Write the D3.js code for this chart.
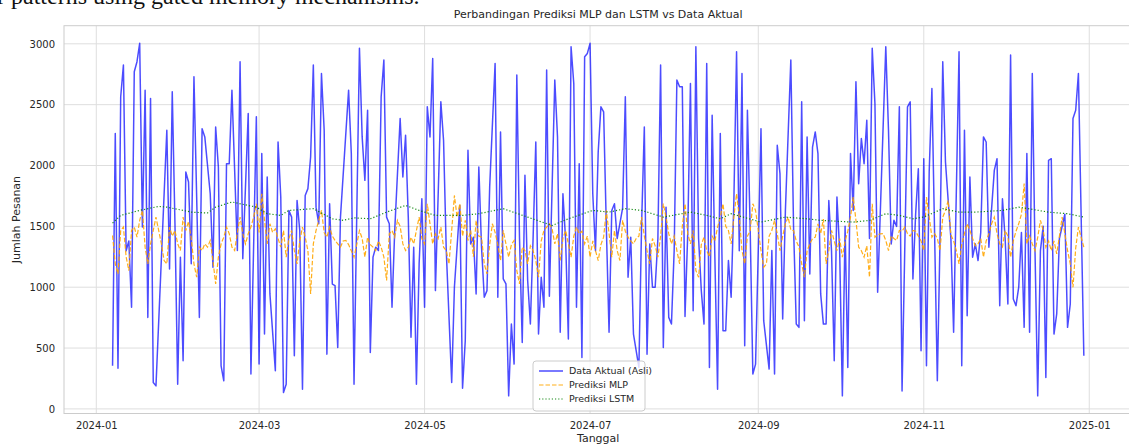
<!DOCTYPE html>
<html>
<head>
<meta charset="UTF-8">
<title>Perbandingan Prediksi MLP dan LSTM vs Data Aktual</title>
<script src="https://cdn.jsdelivr.net/npm/d3@7"></script>
<style>
body, html {
	margin: 0;
	padding: 0;
	background: #ffffff;
	overflow: hidden;
}
svg {
	display: block;
	font-family: 'DejaVu Sans', sans-serif;
}
</style>
</head>
<body>
<svg id="chart"></svg>
<script>
// hari ke-n sejak 2024-01-01
var awalTahun = new Date(2024, 0, 1);

// Data aktual: [hari, jumlah pesanan] (titik balik garis)
var aktual = [
	[6,354],[7,2262],[8,335],[9,2565],[10,2825],[11,1300],[12,1380],[13,835],[14,2770],[15,2853],[16,3004],[17,1494],[18,2619],[19,752],[20,2551],[21,217],[22,189],[26,2290],[27,1150],[28,2606],[29,1521],[30,203],[31,1247],[32,395],[33,1947],[34,1864],[35,1192],
	[36,2730],[38,752],[39,2303],[40,2235],[42,1768],[43,1164],[44,2317],[45,1988],[46,354],[47,231],[48,2015],[49,2015],[50,2619],[52,1301],[53,2853],[54,1233],[56,2427],[57,286],[59,2400],[60,368],[61,2098],[62,615],[63,1906],[64,945],[66,313],[67,2193],[68,1741],
	[69,135],[70,203],[71,1631],[72,1576],[73,437],[74,1713],[75,1466],[76,162],[77,1754],[78,1810],[79,2070],[80,2825],[81,1658],[82,1521],[83,2756],[84,2290],[85,450],[86,1686],[87,1026],[88,1013],[89,505],[90,1576],[93,2619],[94,2098],[95,203],[97,2963],[98,2235],[99,1878],[100,2454],[101,464],
	[102,1247],[103,1329],[104,1301],[105,2565],[106,2867],[107,1576],[108,1521],[109,835],[110,1466],[112,2386],[113,1906],[114,2248],[115,1576],[116,588],[117,1329],[118,203],[119,1192],[120,1727],[121,835],[122,2482],[123,2235],[124,2880],[125,972],[127,2523],[128,2207],[129,1300],[131,217],[132,999],[134,1672],[135,170],
	[136,560],[137,2125],[138,1356],[139,1411],[140,945],[141,1988],[142,1329],[143,917],[144,972],[145,1823],[147,2839],[148,917],[149,2276],[150,1068],[151,1027],[152,107],[153,697],[154,368],[155,2743],[156,1400],[157,546],[158,1919],[159,1055],[160,697],[161,1400],[162,2193],[163,615],[164,1082],[165,835],[166,2784],[167,925],
	[169,2702],[170,2235],[171,629],[172,1768],[173,1384],[174,574],[175,2976],[176,2674],[177,835],[178,2015],[179,423],[180,2894],[181,2921],[182,3004],[183,1768],[184,1300],[185,2111],[186,2482],[187,2441],[188,1494],[189,629],[190,1631],[191,1686],[192,1400],[194,1650],[195,2565],[196,1082],[197,1411],[198,615],[200,341],
	[201,1521],[202,2317],[203,450],[204,1356],[205,999],[206,999],[207,1400],[208,2825],[209,505],[210,1658],[211,752],[212,697],[213,1300],[214,2702],[215,2647],[216,2647],[217,760],[218,1439],[219,2674],[220,807],[221,2976],[222,1400],[223,972],[224,697],[225,2839],[226,341],[227,2413],[228,1250],[229,162],[230,2262],[231,642],[232,642],[233,1219],[234,917],
	[235,1700],[236,2935],[237,1300],[238,2756],[239,519],[240,2454],[241,1500],[242,286],[243,368],[244,1300],[245,2303],[246,725],[248,327],[249,1301],[250,286],[251,2166],[252,1933],[253,739],[254,1631],[256,2867],[257,1500],[258,697],[259,670],[260,2523],[261,725],[262,2235],[263,1109],[264,2152],[265,2276],[266,2098],[267,945],
	[268,697],[269,697],[270,1713],[271,1300],[272,395],[273,1741],[274,1300],[275,107],[276,1500],[277,341],[278,2098],[279,1631],[280,2688],[281,1851],[282,2221],[283,2015],[284,2372],[285,1400],[286,2963],[287,2509],[288,958],[291,2976],[292,2290],[293,1356],[294,1550],[295,1500],[296,2482],[297,148],[299,2482],[300,2523],
	[301,1068],[302,1600],[303,1974],[304,478],[305,2056],[306,354],[307,1947],[308,2633],[310,231],[311,1400],[312,2853],[313,2029],[314,1713],[315,1400],[316,629],[318,2935],[319,354],[320,2290],[321,766],[322,1906],[323,1247],[324,1356],[325,1219],[326,1450],[327,2235],[328,2193],[329,1329],[331,1960],[332,2056],[333,848],
	[334,1727],[335,1400],[336,862],[337,2908],[338,903],[339,848],[340,1000],[341,1450],[342,670],[343,2098],[344,629],[345,2756],[346,1300],[347,107],[348,1300],[349,1500],[350,258],[351,2043],[352,2056],[353,615],[354,780],[355,1400],[357,1600],[358,670],[359,862],[360,2386],[361,2454],[362,2756],[364,437]
];

// Prediksi MLP, harian mulai hari ke-6 (2024-01-07)
var hariAwalMLP = 6;
var nilaiMLP = [
	1425,1192,1109,1466,1494,1250,1137,1466,1494,1411,1549,1631,1329,1192,1356,1466,1576,1466,1356,1219,1192,1494,1420,1466,1356,1301,1576,1466,1540,1400,
	1192,1082,1329,1301,1356,1329,1384,1219,1027,1247,1356,1411,1494,1440,1329,1301,1450,1576,1440,1356,1439,1494,1576,1686,1450,1768,1550,1356,1521,1450,1480,1400,1329,
	1466,1247,1400,1466,1301,1192,1380,1494,1411,1301,945,1356,1466,1550,1631,1450,1411,1494,1420,1384,1356,1329,1380,1384,1350,1300,1247,1350,1466,1400,1247,1411,1350,
	1329,1301,1380,1329,1247,1055,1439,1466,1411,1549,1500,1356,1301,1329,1411,1356,1466,1576,1400,1356,1686,1520,1356,1439,1400,1494,1329,1300,1192,1466,1754,1576,1686,1420,
	1549,1384,1466,1250,1549,1420,1411,1192,1109,1350,1521,1450,1350,1219,1466,1356,1247,1350,1384,1137,1027,1329,1300,1192,1340,1301,1219,1082,1380,1466,1494,1521,
	1480,1356,1440,1219,1400,1466,1356,1247,1420,1494,1439,1460,1356,1420,1247,1380,1301,1219,1350,1411,1631,1440,1247,1466,1300,1219,1549,1460,1411,1380,1356,1400,1420,
	1576,1420,1301,1192,1400,1340,1247,1420,1686,1576,1440,1356,1420,1301,1192,1500,1686,1440,1356,1466,1137,1082,1350,1411,1300,1250,1420,1380,1494,1576,1686,1500,1466,1356,
	1576,1768,1580,1301,1192,1420,1460,1686,1631,1466,1301,1164,1192,1420,1466,1549,1440,1301,1420,1521,1576,1470,1466,1380,1330,1192,1082,1300,1356,1400,1411,1521,1440,
	1560,1192,1300,1466,1380,1301,1400,1247,1380,1460,1576,1741,1550,1329,1300,1247,1340,1082,1686,1411,1430,1439,1440,1384,1301,1420,1400,1384,1466,1460,1494,1440,1420,
	1466,1460,1420,1380,1301,1741,1580,1411,1440,1400,1301,1576,1631,1713,1430,1380,1301,1192,1350,1440,1521,1466,1400,1340,1356,1400,1247,1380,1440,1521,1576,1440,1356,
	1330,1466,1420,1247,1380,1460,1521,1600,1851,1356,1420,1356,1300,1410,1549,1470,1329,1380,1301,1380,1274,1420,1576,1440,1301,1192,999,1320,1494,1411,1329
];

// Prediksi LSTM: [hari, nilai]
var lstm = [
	[6,1527],[9,1590],[16,1631],[23,1664],[26,1658],[32,1631],[35,1617],[41,1610],[44,1658],[50,1700],[59,1658],[63,1604],[68,1590],[71,1631],[80,1645],[87,1562],[91,1549],[95,1570],[101,1562],[107,1617],[114,1672],[119,1631],[125,1590],[135,1590],[141,1604],[150,1645],[159,1576],[168,1507],[174,1562],[183,1631],[189,1617],[195,1645],[201,1631],[209,1576],[219,1617],[225,1590],[230,1562],[234,1604],[245,1535],[254,1576],[262,1562],[267,1549],[279,1535],[285,1549],[291,1604],[296,1590],[301,1562],[305,1576],[312,1645],[318,1617],[324,1617],[334,1631],[340,1658],[351,1617],[358,1604],[364,1576]
];

var yTicks = [0, 500, 1000, 1500, 2000, 2500, 3000];
var namaSeri = ["Data Aktual (Asli)", "Prediksi MLP", "Prediksi LSTM"];

var width = 1129;
var height = 447;

var plotLeft = 64;
var plotRight = 1132.4;
var plotTop = 25.7;
var plotBottom = 413.5;

function hariKe(h) {
	return d3.timeDay.offset(awalTahun, h);
}

var dataAktual = aktual.map(function(d) {return {t: hariKe(d[0]), v: d[1]}});
var dataMLP = nilaiMLP.map(function(v, i) {return {t: hariKe(hariAwalMLP + i), v: v}});
var dataLSTM = lstm.map(function(d) {return {t: hariKe(d[0]), v: d[1]}});

var semua = dataAktual.concat(dataMLP, dataLSTM);

// margin 5% seperti matplotlib
var tExt = d3.extent(semua, function(d) {return d.t});
var tPad = (tExt[1] - tExt[0])*0.05;
var vExt = d3.extent(semua, function(d) {return d.v});
var vPad = (vExt[1] - vExt[0])*0.05;

var x = d3.scaleTime().domain([new Date(+tExt[0] - tPad), new Date(+tExt[1] + tPad)]).range([plotLeft, plotRight]);
var y = d3.scaleLinear().domain([vExt[0] - vPad, vExt[1] + vPad]).range([plotBottom, plotTop]);

var svg = d3.select("#chart").attr("width", width).attr("height", height);
svg.append("rect").attr("width", width).attr("height", height).attr("fill", "#ffffff");

// potongan teks dokumen di atas gambar
svg.append("text").attr("x", -3).attr("y", 4).attr("font-family", "'Liberation Serif', serif").attr("font-size", 24).attr("fill", "#111111").text("r patterns using gated memory mechanisms.");

svg.append("defs").append("clipPath").attr("id", "plotclip").append("rect").attr("x", plotLeft).attr("y", plotTop).attr("width", plotRight - plotLeft).attr("height", plotBottom - plotTop);

// grid
var xTickDates = d3.timeMonth.every(2).range(new Date(2024, 0, 1), new Date(2025, 0, 2));

svg.append("g").attr("class", "grid").selectAll("line").data(xTickDates).enter().append("line")
	.attr("x1", function(d) {return x(d)}).attr("x2", function(d) {return x(d)})
	.attr("y1", plotTop).attr("y2", plotBottom)
	.attr("stroke", "#dedede").attr("stroke-width", 1);

svg.append("g").attr("class", "grid").selectAll("line").data(yTicks).enter().append("line")
	.attr("x1", plotLeft).attr("x2", plotRight)
	.attr("y1", function(d) {return y(d)}).attr("y2", function(d) {return y(d)})
	.attr("stroke", "#dedede").attr("stroke-width", 1);

// axes
var xAxis = d3.axisBottom(x).tickValues(xTickDates).tickFormat(d3.timeFormat("%Y-%m")).tickSize(0).tickPadding(8);
var yAxis = d3.axisLeft(y).tickValues(yTicks).tickFormat(d3.format("d")).tickSize(0).tickPadding(9);

var gx = svg.append("g").attr("transform", "translate(0," + plotBottom + ")").call(xAxis);
var gy = svg.append("g").attr("transform", "translate(" + plotLeft + ",0)").call(yAxis);
[gx, gy].forEach(function(g) {
	g.select(".domain").remove();
	g.selectAll("text").attr("font-family", "'DejaVu Sans', sans-serif").attr("font-size", 10).attr("fill", "#262626");
});

// lines
var line = d3.line().x(function(d) {return x(d.t)}).y(function(d) {return y(d.v)});

var plot = svg.append("g").attr("clip-path", "url(#plotclip)");

plot.append("path").datum(dataAktual).attr("d", line)
	.attr("fill", "none").attr("stroke", "blue").attr("stroke-opacity", 0.7).attr("stroke-width", 1.5).attr("stroke-linejoin", "round");

plot.append("path").datum(dataMLP).attr("d", line)
	.attr("fill", "none").attr("stroke", "orange").attr("stroke-opacity", 0.9).attr("stroke-width", 1.2).attr("stroke-dasharray", "4.5,2");

plot.append("path").datum(dataLSTM).attr("d", line)
	.attr("fill", "none").attr("stroke", "green").attr("stroke-opacity", 0.9).attr("stroke-width", 1.2).attr("stroke-dasharray", "1.2,2");

// frame
svg.append("rect").attr("x", plotLeft).attr("y", plotTop).attr("width", plotRight - plotLeft).attr("height", plotBottom - plotTop)
	.attr("fill", "none").attr("stroke", "#cccccc").attr("stroke-width", 1);

// title and labels
var cx = (plotLeft + plotRight)/2;
svg.append("text").attr("x", cx).attr("y", 18).attr("text-anchor", "middle").attr("font-size", 11).attr("fill", "#262626").text("Perbandingan Prediksi MLP dan LSTM vs Data Aktual");
svg.append("text").attr("x", cx).attr("y", 442).attr("text-anchor", "middle").attr("font-size", 11).attr("fill", "#262626").text("Tanggal");
svg.append("text").attr("transform", "translate(20," + ((plotTop + plotBottom)/2) + ") rotate(-90)").attr("text-anchor", "middle").attr("font-size", 11).attr("fill", "#262626").text("Jumlah Pesanan");

// legend
var gaya = [
	{stroke: "blue", op: 0.7, w: 1.5, dash: null},
	{stroke: "orange", op: 0.9, w: 1.2, dash: "4.5,2"},
	{stroke: "green", op: 0.9, w: 1.2, dash: "1.2,2"}
];
var lg = svg.append("g").attr("transform", "translate(533,361)");
lg.append("rect").attr("width", 112).attr("height", 50).attr("rx", 3).attr("fill", "#ffffff").attr("fill-opacity", 0.8).attr("stroke", "#cccccc").attr("stroke-width", 1);
var item = lg.selectAll("g.item").data(namaSeri).enter().append("g").attr("class", "item")
	.attr("transform", function(d, i) {return "translate(0," + (10 + i*14) + ")"});
item.append("line").attr("x1", 6).attr("x2", 30).attr("y1", 0).attr("y2", 0)
	.attr("stroke", function(d, i) {return gaya[i].stroke})
	.attr("stroke-opacity", function(d, i) {return gaya[i].op})
	.attr("stroke-width", function(d, i) {return gaya[i].w})
	.attr("stroke-dasharray", function(d, i) {return gaya[i].dash});
item.append("text").attr("x", 36).attr("y", 0).attr("dy", "0.35em").attr("font-size", 9.5).attr("fill", "#262626").text(function(d) {return d});
</script>
</body>
</html>
